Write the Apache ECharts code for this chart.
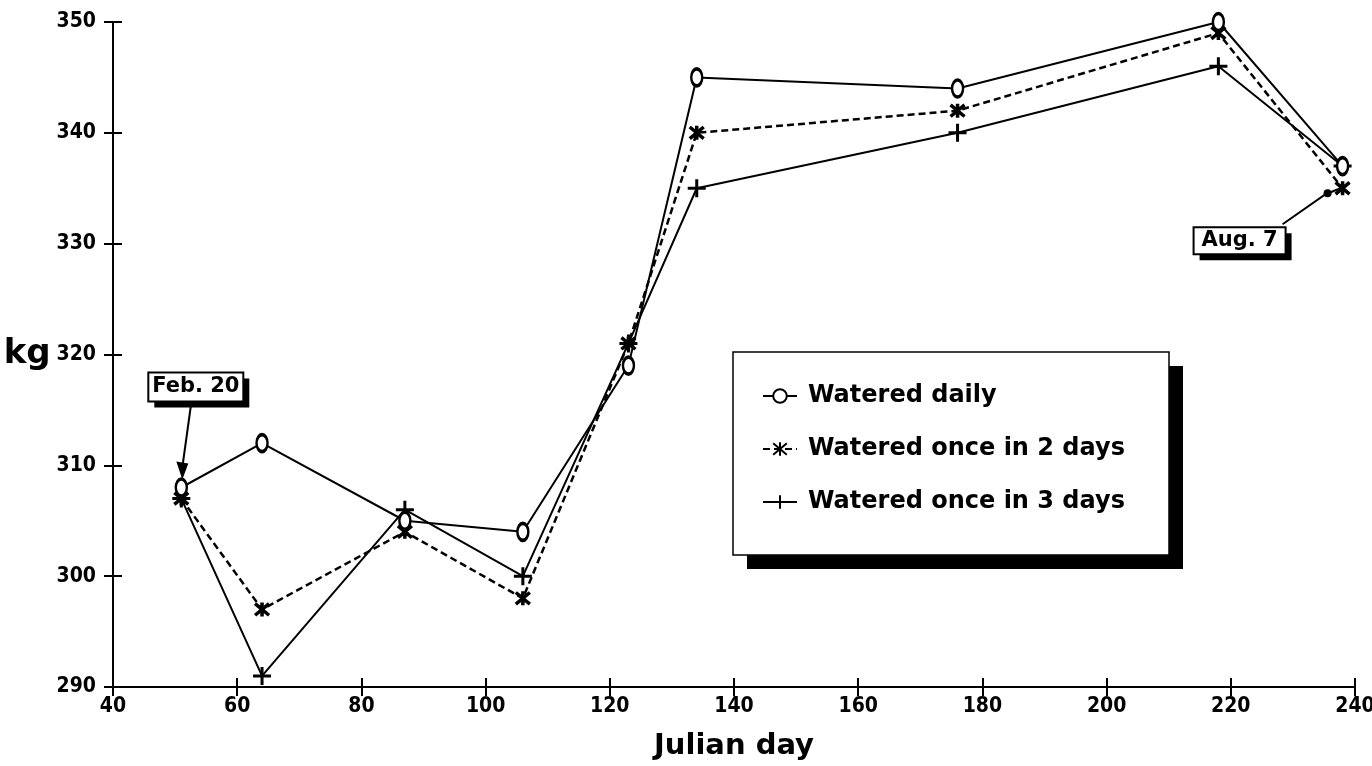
<!DOCTYPE html>
<html><head><meta charset="utf-8">
<script src="https://cdn.jsdelivr.net/npm/echarts@6/dist/echarts.min.js"></script>
<style>html,body{margin:0;padding:0;background:#fff}#c{width:1372px;height:766px}</style>
</head><body><div id="c"></div>
<script>
// Julian days of measurements
const days = [51, 64, 87, 106, 123, 134, 176, 218, 238];
const wateredDaily = [308, 312, 305, 304, 319, 345, 344, 350, 337];
const wateredEvery2 = [307, 297, 304, 298, 321, 340, 342, 349, 335];
const wateredEvery3 = [307, 291, 306, 300, 321, 335, 340, 346, 337];
const seriesNames = ['Watered daily', 'Watered once in 2 days', 'Watered once in 3 days'];
const xTicks = [40, 60, 80, 100, 120, 140, 160, 180, 200, 220, 240];
const yTicks = [290, 300, 310, 320, 330, 340, 350];
const notes = [{text: 'Feb. 20', day: 51, kg: 308}, {text: 'Aug. 7', day: 238, kg: 335}];

const FONT = '"DejaVu Sans Condensed", "Liberation Sans Narrow", "Liberation Sans", sans-serif';
const FONT2 = '"DejaVu Sans", "Noto Sans", sans-serif';
const pair = (vals) => days.map((d, i) => [d, vals[i]]);

const symEllipse = 'path://M5,0A5,7,0,1,1,5,14A5,7,0,1,1,5,0Z';
const symStar = 'path://M0,0L10,10M10,0L0,10M5,-1L5,11';
const symPlus = 'path://M0,5L10,5M5,0L5,10';

const chart = echarts.init(document.getElementById('c'));
const axisCommon = {
  type: 'value', splitLine: {show: false},
  axisLine: {show: true, lineStyle: {color: '#000', width: 2}},
  axisTick: {show: true, length: 9, lineStyle: {color: '#000', width: 2}}
};
chart.setOption({
  animation: false,
  backgroundColor: '#fff',
  grid: {left: 113, right: 17, top: 22, bottom: 79, containLabel: false, outerBoundsMode: 'none'},
  xAxis: [
    Object.assign({}, axisCommon, {
      min: xTicks[0], max: xTicks[xTicks.length - 1], interval: 20,
      name: 'Julian day', nameLocation: 'middle', nameGap: 45,
      nameTextStyle: {fontFamily: FONT2, fontWeight: 'bold', fontSize: 29, color: '#000'},
      axisLabel: {fontFamily: FONT, fontWeight: 'bold', fontSize: 21, color: '#000', margin: 9}
    }),
    Object.assign({}, axisCommon, {
      min: xTicks[0], max: xTicks[xTicks.length - 1], interval: 20, position: 'bottom',
      axisLine: {show: false}, axisLabel: {show: false},
      axisTick: {show: true, inside: true, length: 9, lineStyle: {color: '#000', width: 2}}
    })
  ],
  yAxis: [
    Object.assign({}, axisCommon, {
      min: yTicks[0], max: yTicks[yTicks.length - 1], interval: 10,
      name: 'kg', nameLocation: 'middle', nameGap: 52, nameRotate: 0,
      nameTextStyle: {fontFamily: FONT2, fontWeight: 'bold', fontSize: 34, color: '#000'},
      axisLabel: {fontFamily: FONT, fontWeight: 'bold', fontSize: 21, color: '#000', margin: 17}
    }),
    Object.assign({}, axisCommon, {
      min: yTicks[0], max: yTicks[yTicks.length - 1], interval: 10, position: 'left',
      axisLine: {show: false}, axisLabel: {show: false},
      axisTick: {show: true, inside: true, length: 9, lineStyle: {color: '#000', width: 2}}
    })
  ],
  legend: {
    orient: 'vertical', left: 757, top: 379, itemGap: 29, itemWidth: 34, itemHeight: 17,
    textStyle: {fontFamily: FONT2, fontWeight: 'bold', fontSize: 24, color: '#000', padding: [0, 0, 0, 6]},
    data: seriesNames, z: 10
  },
  series: [
    {name: seriesNames[0], type: 'line', data: pair(wateredDaily), symbol: symEllipse, symbolSize: [11, 17],
     lineStyle: {color: '#000', width: 2}, itemStyle: {color: '#fff', borderColor: '#000', borderWidth: 3}, z: 5},
    {name: seriesNames[1], type: 'line', data: pair(wateredEvery2), symbol: symStar, symbolSize: [14, 14],
     lineStyle: {color: '#000', width: 2.5, type: [7, 4]}, itemStyle: {color: '#000', borderColor: '#000', borderWidth: 3.5}, z: 4},
    {name: seriesNames[2], type: 'line', data: pair(wateredEvery3), symbol: symPlus, symbolSize: [18, 18],
     lineStyle: {color: '#000', width: 2}, itemStyle: {color: '#000', borderColor: '#000', borderWidth: 3}, z: 3}
  ]
});

// Legend box with solid drop shadow, and the two date callouts
const p1 = chart.convertToPixel({gridIndex: 0}, [notes[0].day, notes[0].kg]);
const p2 = chart.convertToPixel({gridIndex: 0}, [notes[1].day, notes[1].kg]);
const callout = (x, y, w, h, text) => ([
  {type: 'rect', shape: {x: x + 6, y: y + 6, width: w, height: h}, style: {fill: '#000'}, z: 1},
  {type: 'rect', shape: {x: x, y: y, width: w, height: h}, style: {fill: '#fff', stroke: '#000', lineWidth: 2}, z: 2},
  {type: 'text', x: x + w / 2, y: y + h / 2, style: {text: text, fill: '#000', font: 'bold 21px ' + FONT2, align: 'center', verticalAlign: 'middle'}, z: 3}
]);
chart.setOption({
  graphic: [
    {type: 'rect', shape: {x: 747, y: 366, width: 436, height: 203}, style: {fill: '#000'}, z: 1},
    {type: 'rect', shape: {x: 733, y: 352, width: 436, height: 203}, style: {fill: '#fff', stroke: '#000', lineWidth: 1.5}, z: 2},
    ...callout(p1[0] - 33, p1[1] - 115, 95, 29, notes[0].text),
    {type: 'line', shape: {x1: p1[0] + 10, y1: p1[1] - 85, x2: p1[0] + 1, y2: p1[1] - 20}, style: {stroke: '#000', lineWidth: 2}, z: 3},
    {type: 'polygon', shape: {points: [[p1[0] + 1, p1[1] - 8], [p1[0] - 5, p1[1] - 26], [p1[0] + 7, p1[1] - 24]]}, style: {fill: '#000'}, z: 3},
    ...callout(p2[0] - 149, p2[1] + 39, 92, 27, notes[1].text),
    {type: 'polyline', shape: {points: [[p2[0] - 60, p2[1] + 36], [p2[0] - 17, p2[1] + 6], [p2[0] - 2, p2[1]]]}, style: {stroke: '#000', lineWidth: 2, fill: null}, z: 3},
    {type: 'circle', shape: {cx: p2[0] - 15, cy: p2[1] + 5, r: 4}, style: {fill: '#000'}, z: 3}
  ]
});
</script></body></html>
